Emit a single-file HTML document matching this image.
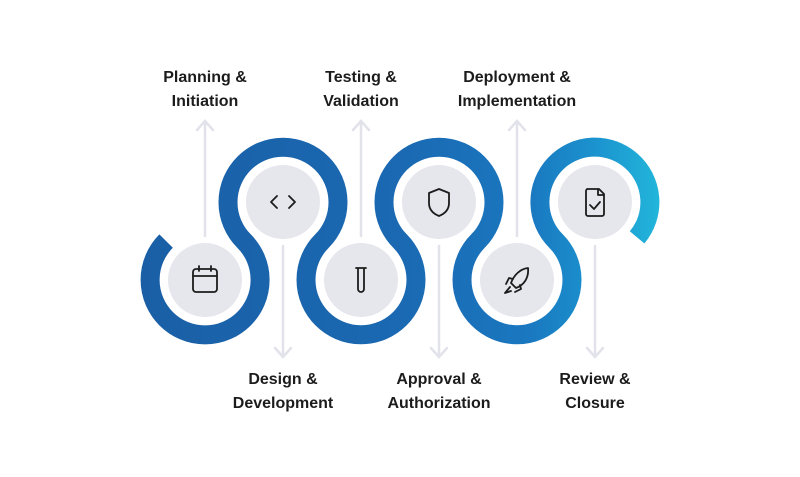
<!DOCTYPE html>
<html><head><style>
html,body{margin:0;padding:0;background:#fff;}
svg{display:block}
text{font-family:"Liberation Sans",sans-serif;font-weight:bold;font-size:16px;fill:#1c1c1c;text-anchor:middle}
</style></head><body>
<svg width="800" height="477" viewBox="0 0 800 477">
<defs>
<linearGradient id="g" x1="140" y1="0" x2="660" y2="0" gradientUnits="userSpaceOnUse">
<stop offset="0" stop-color="#1a5fa6"/>
<stop offset="0.5" stop-color="#1a69b2"/>
<stop offset="0.75" stop-color="#1a78c0"/>
<stop offset="0.88" stop-color="#1b94cf"/>
<stop offset="1" stop-color="#22b6da"/>
</linearGradient>
</defs>
<g stroke="#e2e2ea" stroke-width="2.5" fill="none" stroke-linecap="round">
<line x1="205" y1="122" x2="205" y2="236"/><polyline points="197,130 205,121 213,130"/>
<line x1="361" y1="122" x2="361" y2="236"/><polyline points="353,130 361,121 369,130"/>
<line x1="517" y1="122" x2="517" y2="236"/><polyline points="509,130 517,121 525,130"/>
<line x1="283" y1="246" x2="283" y2="356"/><polyline points="275,348 283,357 291,348"/>
<line x1="439" y1="246" x2="439" y2="356"/><polyline points="431,348 439,357 447,348"/>
<line x1="595" y1="246" x2="595" y2="356"/><polyline points="587,348 595,357 603,348"/>
</g>
<path d="M166.1,241.1 A55,55 0 1 0 244,241 A55,55 0 1 1 322,241 A55,55 0 1 0 400,241 A55,55 0 1 1 478,241 A55,55 0 1 0 556,241 A55,55 0 1 1 637.1,237.4" fill="none" stroke="url(#g)" stroke-width="19"/>
<g fill="#e6e6ed">
<circle cx="205" cy="280" r="37"/><circle cx="283" cy="202" r="37"/><circle cx="361" cy="280" r="37"/>
<circle cx="439" cy="202" r="37"/><circle cx="517" cy="280" r="37"/><circle cx="595" cy="202" r="37"/>
</g>
<g fill="none" stroke="#1c1c1c" stroke-width="1.8" stroke-linecap="round" stroke-linejoin="round">
<rect x="193" y="269" width="24" height="23" rx="3"/><line x1="193" y1="276" x2="217" y2="276"/><line x1="199" y1="266" x2="199" y2="271"/><line x1="211" y1="266" x2="211" y2="271"/>
<polyline points="277,196 271,202 277,208"/><polyline points="289,196 295,202 289,208"/>
<path d="M356,268 H366 M358,268 V289 A3,3 0 0 0 364,289 V268"/>
<path d="M439,189 L449,193 V203 C449,210 444,214 439,216 C434,214 429,210 429,203 V193 Z"/>
<path d="M528,268 C520,269 514,275 511,283 L516,288 C524,285 529,278 528,268 Z M513,279 L509,278 L506,284 M520,285 L521,289 L515,292 M510,287 L505,293 L511,291"/>
<path d="M587,189 H599 L604,194 V214 A2,2 0 0 1 602,216 H588 A2,2 0 0 1 586,214 V191 A2,2 0 0 1 588,189 Z M598,189 V195 H604 M590,205 L594,209 L600,202"/>
</g>
<text x="205" y="82">Planning &amp;</text><text x="205" y="106">Initiation</text>
<text x="361" y="82">Testing &amp;</text><text x="361" y="106">Validation</text>
<text x="517" y="82">Deployment &amp;</text><text x="517" y="106">Implementation</text>
<text x="283" y="384">Design &amp;</text><text x="283" y="408">Development</text>
<text x="439" y="384">Approval &amp;</text><text x="439" y="408">Authorization</text>
<text x="595" y="384">Review &amp;</text><text x="595" y="408">Closure</text>
</svg>
</body></html>
